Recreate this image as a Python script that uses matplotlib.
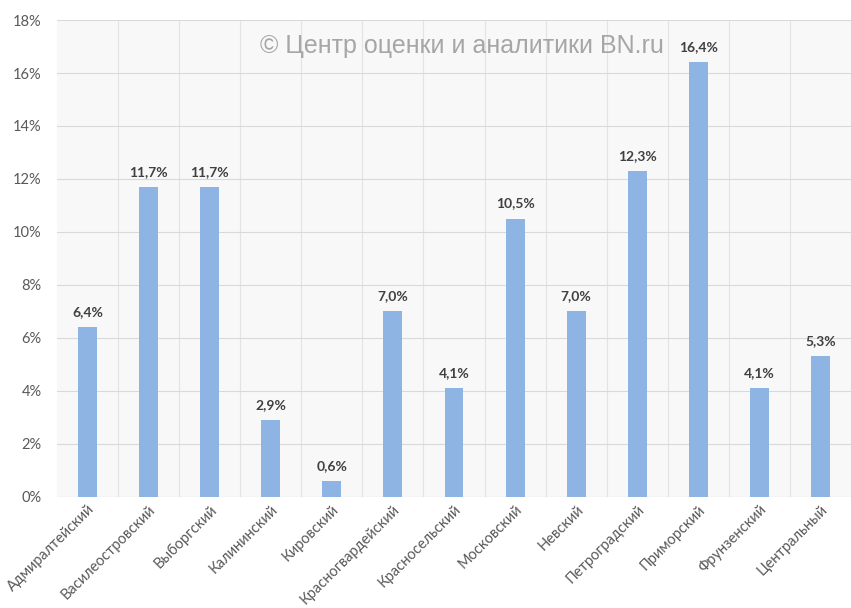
import matplotlib.pyplot as plt
import numpy as np

districts = ["Адмиралтейский", "Василеостровский", "Выборгский", "Калининский",
             "Кировский", "Красногвардейский", "Красносельский", "Московский",
             "Невский", "Петроградский", "Приморский", "Фрунзенский", "Центральный"]
shares = [6.4, 11.7, 11.7, 2.9, 0.6, 7.0, 4.1, 10.5, 7.0, 12.3, 16.4, 4.1, 5.3]
labels = ["6,4%", "11,7%", "11,7%", "2,9%", "0,6%", "7,0%", "4,1%",
          "10,5%", "7,0%", "12,3%", "16,4%", "4,1%", "5,3%"]
yticks = [0, 2, 4, 6, 8, 10, 12, 14, 16, 18]

plt.rcParams['font.family'] = ['Lato', 'DejaVu Sans']

fig = plt.figure(figsize=(8.51, 6.08), dpi=100)
ax = fig.add_axes([0.067, 0.183, 0.933, 0.784])
ax.set_facecolor("#f8f8f8")

x = np.arange(len(districts))
ax.bar(x, shares, width=0.31, color="#8db4e2", zorder=3)
for xi, v, lab in zip(x, shares, labels):
    ax.text(xi, v + 0.35, lab, ha="center", va="bottom", fontsize=10,
            fontweight="bold", color="#404040", zorder=4)

ax.set_xlim(-0.5, 12.3)
ax.set_ylim(0, 18)
ax.set_yticks(yticks)
ax.set_yticklabels([f"{t}%" for t in yticks], fontsize=10.5, color="#595959")
ax.set_xticks(x)
ax.set_xticklabels(districts, rotation=45, ha="right", rotation_mode="anchor",
                   fontsize=10.5, color="#595959")
ax.set_xticks(x + 0.5, minor=True)
ax.tick_params(axis="both", length=0, which="both")
ax.tick_params(axis="x", pad=4)
ax.tick_params(axis="y", pad=11)

ax.grid(axis="y", color="#d9d9d9", linewidth=0.8, zorder=1)
ax.grid(axis="x", which="minor", color="#e3e3e3", linewidth=0.8, zorder=1)
for s in ax.spines.values():
    s.set_visible(False)
ax.axhline(0, color="#d9d9d9", linewidth=0.8, zorder=2)

ax.text(0.51, 0.945, "© Центр оценки и аналитики BN.ru", transform=ax.transAxes,
        ha="center", va="center", fontsize=18, color="#a6a6a6",
        family=["Liberation Sans", "DejaVu Sans"], zorder=4)

fig.savefig("out.png", dpi=100)
